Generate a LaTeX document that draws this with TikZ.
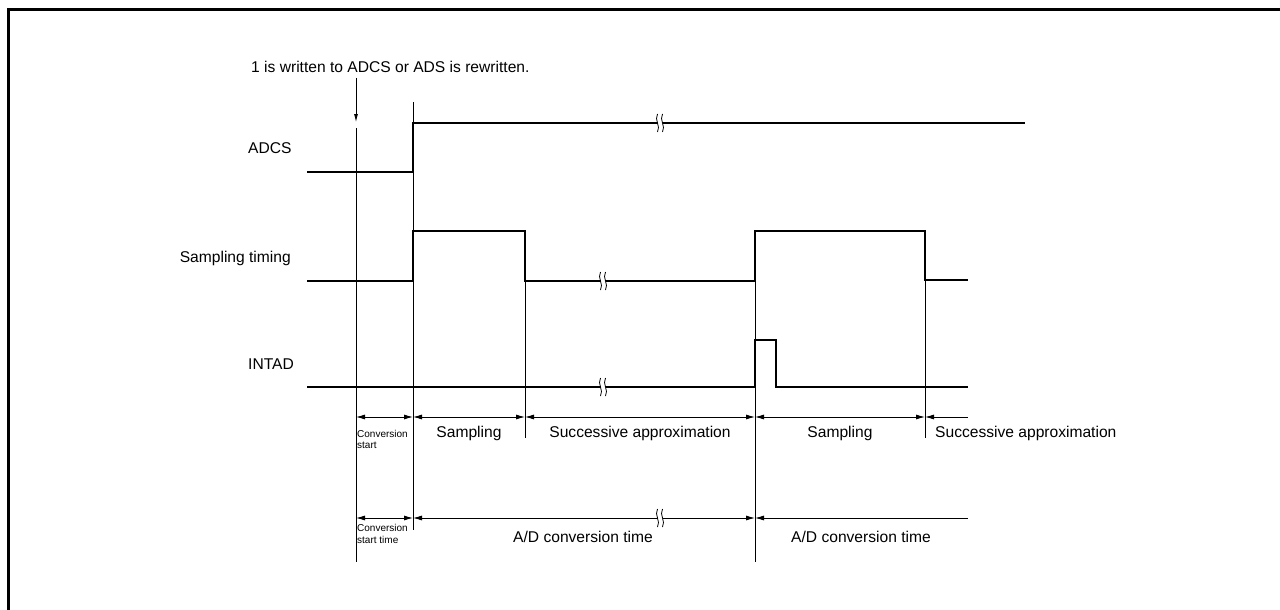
\documentclass[tikz,border=0pt]{standalone}
\usepackage{fontspec}
\setmainfont{Liberation Sans}
\usetikzlibrary{arrows.meta}
\begin{document}
\begin{tikzpicture}[x=1pt,y=-1pt,
  sig/.style={line width=2.2pt, line join=miter},
  vline/.style={line width=0.8pt},
  dimline/.style={line width=0.8pt},
  downtip/.style={-{Latex[length=8pt,width=4pt]}},
  bothtips/.style={{Latex[length=9pt,width=5pt]}-{Latex[length=9pt,width=5pt]}},
  lefttip/.style={{Latex[length=9pt,width=5pt]}-},
  lbl/.style={inner sep=0pt, font=\fontsize{15.6}{18}\selectfont},
  small/.style={inner sep=0pt, anchor=base west, font=\fontsize{10}{12}\selectfont},
  brk/.pic={
    \fill[white] (-2.5,-2.4) rectangle (2.5,2.4);
    \draw[line width=0.8pt] (-2.5,-9) .. controls (-6,-3) and (1,3) .. (-2.5,9);
    \draw[line width=0.8pt] (2.5,-9) .. controls (-1,-3) and (6,3) .. (2.5,9);
  }
]
\useasboundingbox (0,0) rectangle (1280,610);
% frame
\draw[line width=3pt] (8,612) -- (8,10) -- (1282,10);

% top annotation
\node[lbl, anchor=base west] (top) at (251,73) {1 is written to ADCS or ADS is rewritten.};
\coordinate (w0) at (356,78);
\coordinate (w1) at (356,122);
\draw[vline, downtip] (w0) -- (w1);

% signal labels
\node[lbl, anchor=base west] (ladcs) at (248,153) {ADCS};
\node[lbl, anchor=base east] (lsamp) at (291,262) {Sampling timing};
\node[lbl, anchor=base west] (lint) at (248,369) {INTAD};

% vertical reference lines
\draw[vline] (356,128) -- (356,562);
\draw[vline] (413,102) -- (413,530);
\draw[vline] (525,231) -- (525,438);
\draw[vline] (755,231) -- (755,562);
\draw[vline] (925,231) -- (925,438);

% signals
\draw[sig] (307,172) -- (413,172) -- (413,123) -- (1025,123);
\draw[sig] (307,281) -- (413,281) -- (413,231) -- (525,231) -- (525,281) -- (755,281) -- (755,231) -- (925,231) -- (925,280) -- (968,280);
\draw[sig] (307,387) -- (755,387) -- (755,340) -- (776,340) -- (776,387) -- (968,387);

% dimension row 1
\coordinate (a0) at (356,417);
\coordinate (a1) at (413,417);
\coordinate (a2) at (525,417);
\coordinate (a3) at (755,417);
\coordinate (a4) at (925,417);
\coordinate (a5) at (968,417);
\draw[dimline, bothtips] (a0) -- (a1);
\draw[dimline, bothtips] (a1) -- (a2);
\draw[dimline, bothtips] (a2) -- (a3);
\draw[dimline, bothtips] (a3) -- (a4);
\draw[dimline, lefttip] (a4) -- (a5);

% dimension row 2
\coordinate (b0) at (356,518);
\coordinate (b1) at (413,518);
\coordinate (b3) at (755,518);
\coordinate (b5) at (968,518);
\draw[dimline, bothtips] (b0) -- (b1);
\draw[dimline, bothtips] (b1) -- (b3);
\draw[dimline, lefttip] (b3) -- (b5);

% break marks
\pic at (660,123) {brk};
\pic at (603,281) {brk};
\pic at (603,387) {brk};
\pic at (660,518) {brk};

% row 1 labels
\node[small] (cs1) at (357,437) {Conversion};
\node[small] (cs2) at (357,448) {start};
\node[lbl, anchor=base] (s1) at (469,437) {Sampling};
\node[lbl, anchor=base] (sa1) at (640,437) {Successive approximation};
\node[lbl, anchor=base] (s2) at (840,437) {Sampling};
\node[lbl, anchor=base west] (sa2) at (935,437) {Successive approximation};

% row 2 labels
\node[small] (ct1) at (357,531) {Conversion};
\node[small] (ct2) at (357,543) {start time};
\node[lbl, anchor=base] (ad1) at (583,542) {A/D conversion time};
\node[lbl, anchor=base] (ad2) at (861,542) {A/D conversion time};
\end{tikzpicture}
\end{document}
